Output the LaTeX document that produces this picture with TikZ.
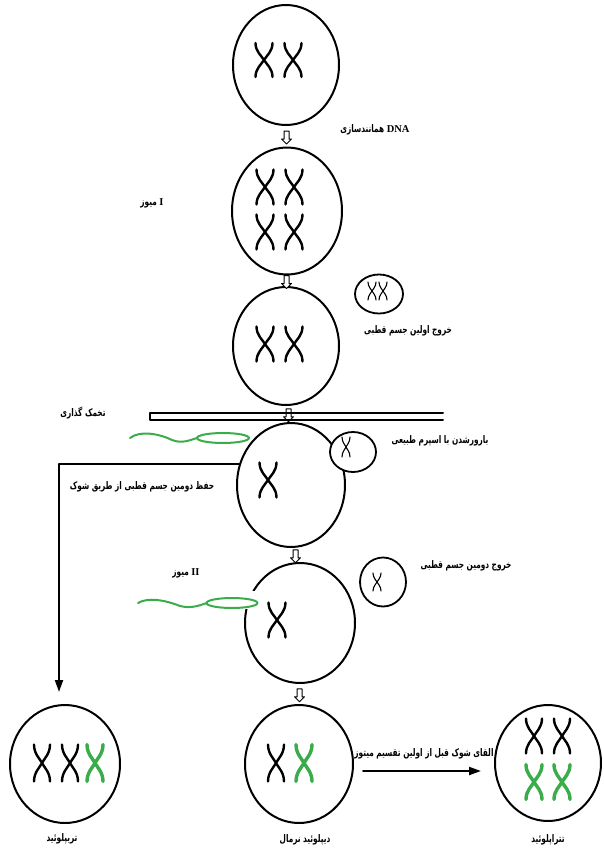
\documentclass[tikz,border=0pt]{standalone}
\usepackage{fontspec}
\usetikzlibrary{shapes.geometric,shapes.arrows,calc,arrows.meta}
\TeXXeTstate=1
\newfontfamily\farsi[Script=Arabic, FakeStretch=0.7]{DejaVu Sans}
\newfontfamily\enfont{Liberation Serif}
\definecolor{spermgreen}{RGB}{58,172,74}
\newcommand{\fa}[1]{{\farsi\beginR #1\endR}}
% one chromosome: [style]{x}{y}{half width}{half height}
\newcommand{\chromo}[5][]{%
  \draw[chromline,#1,shift={(#2,#3)},xscale=#4,yscale=#5]
    (-1,-1) .. controls (-1,-0.5) and (-0.3,-0.25) .. (0,0) .. controls (-0.3,0.25) and (-1,0.5) .. (-1,1)
    (1,-1) .. controls (1,-0.5) and (0.3,-0.25) .. (0,0) .. controls (0.3,0.25) and (1,0.5) .. (1,1);}
\tikzset{
  cell/.style={draw, ellipse, line width=2pt, inner sep=0pt, fill=white},
  polar/.style={draw, ellipse, line width=1.8pt, inner sep=0pt, fill=white},
  chromline/.style={line width=2.4pt},
  thinchrom/.style={line width=1.1pt},
  greenchrom/.style={line width=3.4pt, draw=spermgreen},
  hollowarrow/.style={single arrow, draw, line width=1pt, fill=white, shape border rotate=270,
    minimum height=13pt, inner sep=2pt, single arrow head extend=2.5pt},
  conn/.style={line width=2pt},
  sperm/.style={line width=2pt, draw=spermgreen},
  lbl/.style={inner sep=1pt, font=\farsi\bfseries\fontsize{10.5}{12}\selectfont}
}
\begin{document}
\begin{tikzpicture}[x=1pt,y=-1pt, line join=round, line cap=round, >={Triangle[width=8pt,length=12pt]}]
\useasboundingbox (0,0) rectangle (603,852);
% cells of the main line
\node[cell, minimum width=106pt, minimum height=120pt] (c1) at (286,65) {};
\node[cell, minimum width=110pt, minimum height=127pt] (c2) at (287,211) {};
\node[cell, minimum width=106pt, minimum height=118pt] (c3) at (286,346) {};
\node[cell, minimum width=108pt, minimum height=124pt] (c4) at (291,485) {};
\node[cell, minimum width=110pt, minimum height=120pt] (c5) at (300,623) {};
\node[cell, minimum width=108pt, minimum height=118pt] (c6) at (299,764) {};
\node[cell, minimum width=110pt, minimum height=118pt] (c7) at (65,764) {};
\node[cell, minimum width=106pt, minimum height=116pt] (c8) at (548,763) {};
% polar bodies
\node[polar, minimum width=48pt, minimum height=39pt] (p1) at (379,294) {};
\node[polar, minimum width=46pt, minimum height=40pt] (p2) at (353,452) {};
\node[polar, minimum width=46pt, minimum height=49pt] (p3) at (383,582) {};
% opening where the sperm enters
\fill[white] (243,591) rectangle (259,609);
% small arrows between the stages
\node[hollowarrow] (a1) at ($(c1.south)!0.5!(c2.north)$) {};
\node[hollowarrow] (a2) at ($(c2.south)!0.5!(c3.north)$) {};
\node[hollowarrow] (a3) at ($(c3.south)!0.5!(c4.north)$) {};
\node[hollowarrow] (a4) at ($(c4.south)!0.5!(c5.north)$) {};
\node[hollowarrow] (a5) at ($(c5.south)!0.5!(c6.north)$) {};
% ovulation bar
\draw[line width=2pt] (443,413) -- (150,413) -- (150,420) -- (443,420);
% chromosomes
\chromo{264}{60}{8.5}{17}
\chromo{293}{60}{8.5}{17}
\chromo{265}{187}{8.5}{17.5}
\chromo{294}{187}{8.5}{17.5}
\chromo{265}{232}{8.5}{17.5}
\chromo{294}{232}{8.5}{17.5}
\chromo{265}{344}{8.5}{17.5}
\chromo{294}{344}{8.5}{17.5}
\chromo[thinchrom]{372}{291}{4}{9}
\chromo[thinchrom]{383}{291}{4}{9}
\chromo{268}{480}{8.5}{17.5}
\chromo[thinchrom]{346}{447}{4}{10}
\chromo{277}{620}{8.5}{17.5}
\chromo[thinchrom]{377}{582}{4}{9}
\chromo{42}{763}{8}{18.5}
\chromo{70}{763}{8}{18.5}
\chromo[greenchrom]{95}{763}{8}{18.5}
\chromo{276}{763}{8}{18.5}
\chromo[greenchrom]{304}{763}{8}{18.5}
\chromo{534}{736}{8}{17.5}
\chromo{562}{736}{8}{17.5}
\chromo[greenchrom]{534}{782}{8}{17.5}
\chromo[greenchrom]{562}{782}{8}{17.5}
% sperms
\draw[sperm] (130,438) .. controls (140,430) and (160,434) .. (172,440) .. controls (182,444) and (190,440) .. (197,438);
\draw[sperm] (223,438) ellipse [x radius=26pt, y radius=5pt];
\draw[sperm] (138,603) .. controls (148,597) and (165,600) .. (180,606) .. controls (192,609) and (200,605) .. (207,603);
\draw[sperm] (232,603) ellipse [x radius=25.5pt, y radius=5pt];
% long connectors
\draw[conn,->,shorten >=12pt] (c4.158) -| ([xshift=-6pt]c7.north);
\draw[conn,->,shorten <=9pt,shorten >=13pt] ([yshift=-7pt]c6.east) -- ([yshift=-7pt]c6.east -| c8.west)
  node[lbl, midway, above=10pt] (t9) {\fa{القای شوک قبل از اولین تقسیم میتوز}};
% labels
\node[lbl] (t1) at (375,130) {\fa{همانندسازی} {\enfont\bfseries DNA}};
\node[lbl] (t2) at (152,203) {\fa{میوز} {\enfont\bfseries I}};
\node[lbl] (t3) at (408,331) {\fa{خروج اولین جسم قطبی}};
\node[lbl] (t4) at (83,413) {\fa{تخمک گذاری}};
\node[lbl] (t5) at (440,441) {\fa{بارورشدن با اسپرم طبیعی}};
\node[lbl] (t6) at (142,487) {\fa{حفظ دومین جسم قطبی از طریق شوک}};
\node[lbl] (t7) at (186,573) {\fa{میوز} {\enfont\bfseries II}};
\node[lbl] (t8) at (466,566) {\fa{خروج دومین جسم قطبی}};
\node[lbl] (t10) at (62,839) {\fa{تریپلوئید}};
\node[lbl] (t11) at (305,840) {\fa{دیپلوئید نرمال}};
\node[lbl] (t12) at (548,840) {\fa{تتراپلوئید}};
\end{tikzpicture}
\end{document}
